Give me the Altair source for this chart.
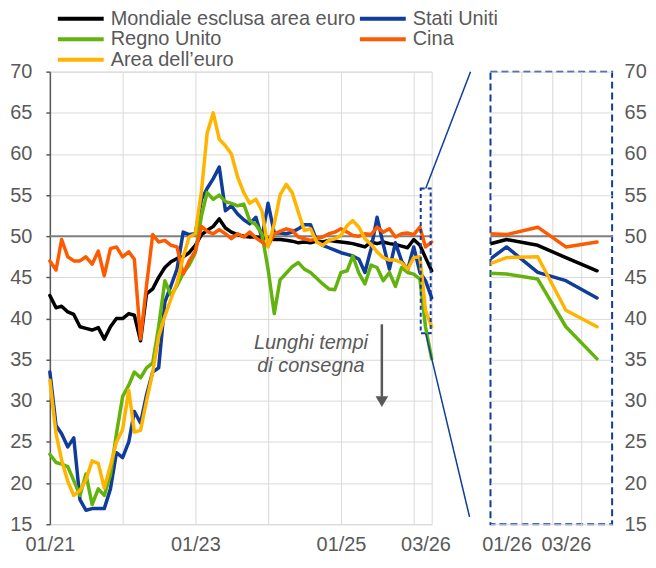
import altair as alt
import pandas as pd

# ---------------- data ----------------
months = pd.date_range("2021-01-01", "2026-04-01", freq="MS")

series_names = ["Mondiale esclusa area euro", "Stati Uniti", "Regno Unito", "Cina", "Area dell’euro"]
series_colors = ["#000000", "#0f3d99", "#62b30b", "#fe5a00", "#ffb400"]
# legend entries are filled column by column: this gives rows
# (Mondiale | Stati Uniti), (Regno Unito | Cina), (Area dell'euro)
legend_order = ["Mondiale esclusa area euro", "Regno Unito", "Area dell’euro", "Stati Uniti", "Cina"]

mondiale = [42.8, 41.3, 41.5, 40.8, 40.5, 39.0, 38.8, 38.6, 38.9, 37.5, 39.0, 40.0, 40.0, 40.6, 40.4, 37.3,
            43.0, 43.6, 45.0, 46.2, 46.9, 47.3, 47.5, 48.0, 48.9, 50.2, 50.7, 51.2, 52.1, 51.0, 50.5, 50.2,
            50.0, 49.9, 49.9, 49.8, 49.7, 49.6, 49.6, 49.5, 49.4, 49.2, 49.3, 49.2, 49.4, 49.3, 49.5, 49.4,
            49.3, 49.2, 49.1, 48.9, 48.7, 49.3, 49.1, 49.3, 49.1, 49.0, 48.8, 48.6, 49.6, 48.9, 47.4, 45.8]
stati_uniti = [33.5, 27.0, 26.0, 24.4, 25.5, 18.0, 16.7, 16.9, 16.9, 16.9, 19.3, 23.7, 23.1, 25.0, 28.7, 27.3,
               30.7, 33.5, 34.0, 42.0, 44.0, 46.0, 50.5, 50.2, 50.3, 54.5, 55.8, 57.0, 58.4, 53.1, 53.7, 52.7,
               52.0, 51.5, 52.3, 49.8, 54.0, 50.4, 50.4, 50.3, 50.5, 50.9, 51.4, 51.4, 49.5, 48.9, 48.6, 48.3,
               48.0, 47.8, 47.6, 47.2, 45.6, 48.5, 52.3, 49.0, 46.0, 49.2, 47.0, 45.9, 48.7, 45.6, 44.6, 42.5]
regno_unito = [23.5, 22.5, 22.3, 22.0, 20.3, 18.5, 21.1, 17.4, 19.3, 18.5, 21.0, 26.0, 30.5, 31.9, 33.5, 32.8,
               34.0, 34.6, 39.0, 44.6, 42.8, 44.0, 45.5, 46.5, 48.0, 52.5, 55.3, 54.5, 55.0, 54.2, 54.0, 53.7,
               53.9, 51.9, 51.4, 50.3, 46.0, 40.6, 44.7, 45.5, 46.3, 46.8, 46.0, 45.6, 44.9, 44.2, 43.6, 43.5,
               45.6, 45.8, 47.6, 45.5, 44.2, 46.5, 46.2, 44.6, 45.6, 43.9, 46.2, 45.6, 45.4, 44.8, 39.0, 35.1]
cina = [47.0, 45.9, 49.6, 47.5, 47.0, 47.0, 47.5, 46.6, 48.2, 45.2, 48.5, 48.7, 47.5, 48.1, 47.2, 37.5,
        44.0, 50.2, 49.3, 49.5, 48.9, 48.7, 45.4, 47.0, 48.2, 51.2, 50.6, 50.3, 50.8, 50.3, 49.7, 50.3,
        49.9, 50.5, 49.8, 49.3, 48.8, 50.3, 50.6, 50.9, 50.7, 49.9, 49.7, 49.5, 49.7, 49.9, 50.3, 50.5,
        50.9, 50.5, 50.1, 50.0, 50.3, 50.2, 51.1, 50.5, 50.9, 49.9, 50.3, 50.4, 50.2, 51.1, 48.7, 49.3]
area_euro = [32.5, 26.0, 22.8, 20.2, 18.5, 19.1, 20.4, 22.7, 22.4, 19.4, 22.1, 25.0, 26.5, 31.3, 26.2, 26.4,
             30.0, 33.5, 37.8, 40.3, 42.4, 44.3, 47.5, 49.9, 50.3, 55.5, 62.5, 65.0, 61.8, 61.0, 60.0, 57.2,
             55.3, 54.0, 54.5, 53.1, 48.7, 51.5, 55.0, 56.3, 55.3, 52.9, 50.7, 50.9, 49.3, 48.9, 49.5, 49.7,
             50.1, 51.3, 51.9, 51.1, 49.7, 49.0, 48.1, 47.4, 47.1, 47.1, 46.8, 46.0, 47.4, 47.5, 41.0, 39.0]

values_by_series = [mondiale, stati_uniti, regno_unito, cina, area_euro]

# y-axis ticks
y_ticks = [15, 20, 25, 30, 35, 40, 45, 50, 55, 60, 65, 70]

# annotation ("long delivery times") text and arrow
note_lines = ["Lunghi tempi", "di consegna"]
note_dates = ["2024-08-03", "2024-08-03"]
note_values = [36.3, 33.5]
arrow_date = ["2025-07-25"]
arrow_from = [39.3]
arrow_to = [30.5]
arrow_head = [29.9]

# zoom box and callout lines
box_dates = ["2026-02-05", "2026-03-27"]
box_values = [38.2, 55.8]
callout_start_dates = ["2026-03-02", "2026-03-02"]
callout_start_values = [55.8, 38.2]
callout_end_dates = ["2026-10-13", "2026-10-08"]
callout_end_values = [70.0, 15.9]

GREY = "#595959"
BLUE = "#0f3d99"

rows = []
for name, vals in zip(series_names, values_by_series):
    for d, v in zip(months, vals):
        rows.append({"date": d, "value": v, "serie": name})
df = pd.DataFrame(rows)
df_right = df[df["date"] >= pd.Timestamp("2025-12-01")]

df_ref = pd.DataFrame({"value": [50]})
df_note = pd.DataFrame({"date": pd.to_datetime(note_dates), "value": note_values, "t": note_lines})
df_arrow = pd.DataFrame({"date": pd.to_datetime(arrow_date), "value": arrow_from, "value2": arrow_to})
df_head = pd.DataFrame({"date": pd.to_datetime(arrow_date), "value": arrow_head})
df_box = pd.DataFrame({"date": [pd.Timestamp(box_dates[0])], "date2": [pd.Timestamp(box_dates[1])],
                       "value": [box_values[0]], "value2": [box_values[1]]})
df_callout = pd.DataFrame({"date": pd.to_datetime(callout_start_dates), "value": callout_start_values,
                           "date2": pd.to_datetime(callout_end_dates), "value2": callout_end_values})

PLOT_H = 454

# ---------------- encodings ----------------
def dt(y, m, d):
    return alt.DateTime(year=y, month=m, date=d)

color_enc = alt.Color(
    "serie:N",
    scale=alt.Scale(domain=series_names, range=series_colors),
    legend=alt.Legend(
        title=None, orient="none", legendX=21, legendY=-63, columns=2, values=legend_order,
        symbolType="M-2.875,0H2.875", symbolSize=256, symbolStrokeWidth=4,
        labelFontSize=20, labelFont="Liberation Sans", labelColor=GREY,
        labelOffset=20, labelLimit=400, columnPadding=-4, rowPadding=0.5, padding=0,
    ),
)

x_left = alt.X(
    "date:T",
    scale=alt.Scale(domain=[dt(2021, 1, 1), dt(2026, 4, 1)]),
    axis=alt.Axis(
        title=None,
        values=[dt(2021, 1, 1), dt(2022, 1, 1), dt(2023, 1, 1), dt(2024, 1, 1), dt(2025, 1, 1),
                dt(2026, 1, 1), dt(2026, 3, 1)],
        labelExpr="((month(datum.value) == 0 && year(datum.value) % 2 == 1) || month(datum.value) == 2) ? timeFormat(datum.value, '%m/%y') : ''",
        gridOpacity={"condition": {"test": "month(datum.value) == 0", "value": 1}, "value": 0},
        ticks=False, domain=False, labelFlush=False, labelOverlap=False, labelPadding=10,
    ),
)
y_left = alt.Y(
    "value:Q",
    scale=alt.Scale(domain=[15, 70], nice=False, zero=False),
    axis=alt.Axis(title=None, values=y_ticks, domainColor=GREY, domainWidth=1.5,
                  tickColor=GREY, tickSize=4, tickWidth=1.5, labelPadding=14),
)

x_right = alt.X(
    "date:T",
    scale=alt.Scale(domain=[dt(2025, 12, 16), dt(2026, 4, 16)]),
    axis=alt.Axis(
        title=None,
        values=[dt(2026, 1, 1), dt(2026, 1, 16), dt(2026, 2, 15), dt(2026, 3, 1), dt(2026, 3, 16)],
        labelExpr="date(datum.value) == 1 ? timeFormat(datum.value, '%m/%y') : ''",
        gridOpacity={"condition": {"test": "date(datum.value) == 1", "value": 0}, "value": 1},
        ticks=False, domain=False, labelFlush=False, labelOverlap=False, labelPadding=10,
    ),
)
y_right = alt.Y(
    "value:Q",
    scale=alt.Scale(domain=[15, 70], nice=False, zero=False),
    axis=alt.Axis(title=None, values=y_ticks, orient="right", domain=False, ticks=False, labelPadding=12),
)

# ---------------- left panel ----------------
lines_left = alt.Chart(df).mark_line(strokeWidth=3.5, strokeJoin="round", strokeCap="round").encode(
    x=x_left, y=y_left, color=color_enc
)
ref_left = alt.Chart(df_ref).mark_rule(color="#7f7f7f", strokeWidth=2).encode(y=y_left)
note = alt.Chart(df_note).mark_text(
    font="Liberation Sans", fontSize=20, fontStyle="italic", color=GREY, align="center", baseline="alphabetic"
).encode(x=x_left, y=y_left, text="t:N")
arrow = alt.Chart(df_arrow).mark_rule(color=GREY, strokeWidth=2.5).encode(x=x_left, y=y_left, y2="value2:Q")
head = alt.Chart(df_head).mark_point(shape="triangle-down", filled=True, size=160, color=GREY, opacity=1).encode(
    x=x_left, y=y_left
)
box = alt.Chart(df_box).mark_rect(fillOpacity=0, stroke=BLUE, strokeWidth=2, strokeDash=[4, 3]).encode(
    x=x_left, x2="date2:T", y=y_left, y2="value2:Q"
)
callout = alt.Chart(df_callout).mark_rule(color=BLUE, strokeWidth=1.5).encode(
    x=x_left, x2="date2:T", y=y_left, y2="value2:Q"
)

left = alt.layer(ref_left, lines_left, note, arrow, head, box, callout).properties(
    width=383, height=PLOT_H, view=alt.ViewBackground(stroke="#d9d9d9", strokeWidth=1)
)

# ---------------- right panel ----------------
ref_right = alt.Chart(df_ref).mark_rule(color="#7f7f7f", strokeWidth=2).encode(y=y_right)
lines_right = alt.Chart(df_right).mark_line(strokeWidth=3.5, strokeJoin="round", strokeCap="round", clip=True).encode(
    x=x_right, y=y_right, color=color_enc
)
right = alt.layer(ref_right, lines_right).properties(
    width=122, height=PLOT_H, view=alt.ViewBackground(stroke=BLUE, strokeWidth=2, strokeDash=[7, 4])
)

chart = alt.hconcat(left, right, spacing=59, bounds="flush").properties(
    padding={"left": 1, "top": 0, "right": 0, "bottom": 0}
).configure_axis(
    labelFont="Liberation Sans", labelFontSize=20, labelColor=GREY, gridColor="#d9d9d9", gridWidth=1
)

chart.save("out.html", embed_options={"renderer": "svg", "actions": False})
